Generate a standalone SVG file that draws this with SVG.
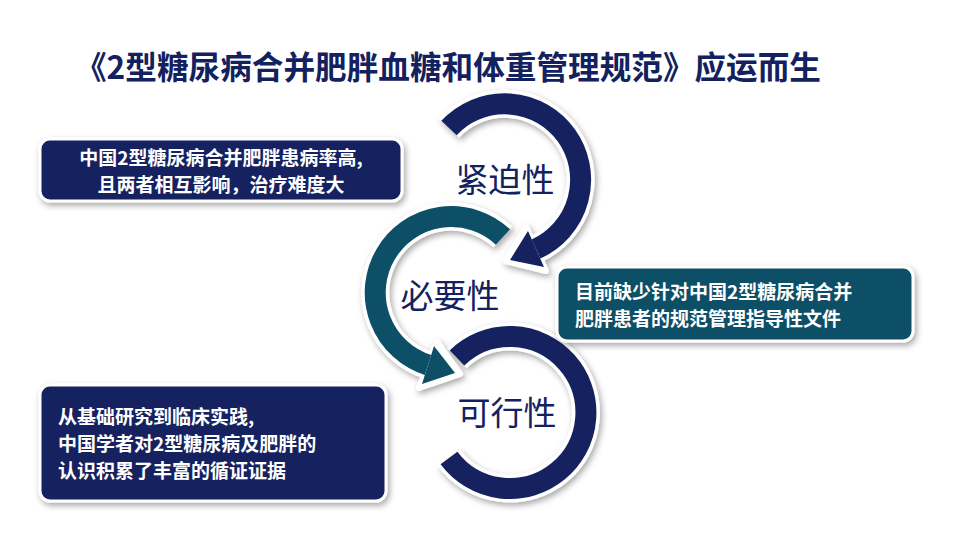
<svg xmlns="http://www.w3.org/2000/svg" width="960" height="540" viewBox="0 0 960 540">
<defs>
<filter id="sh" x="-20%" y="-20%" width="140%" height="140%"><feDropShadow dx="2" dy="3" stdDeviation="3" flood-color="#000" flood-opacity="0.35"/></filter>
</defs>
<style>
text{font-family:"Noto Sans CJK SC","Liberation Sans",sans-serif}
.box{stroke:#fff;stroke-width:3;filter:url(#sh)}
.bt{fill:#fff;font-size:19px;font-weight:bold}
.lbl{fill:#13215e;font-size:33px}
.w{fill:none;stroke:#fff;stroke-width:28}
</style>
<rect width="960" height="540" fill="#fff"/>
<text x="448" y="79" text-anchor="middle" font-size="32" font-weight="bold" fill="#13215e" textLength="746" lengthAdjust="spacingAndGlyphs">《2型糖尿病合并肥胖血糖和体重管理规范》应运而生</text>
<g id="connectors" filter="url(#sh)">
<g id="arc3">
<path class="w" d="M457,358 A76,76 0 1 1 449,458"/>
<path d="M457,358 A76,76 0 1 1 449,458" fill="none" stroke="#13215e" stroke-width="21"/>
</g>
<g id="arc2">
<path class="w" d="M503,237 A76,76 0 1 0 428,365"/>
<polygon points="419,388 437,342 460,374" fill="#fff" stroke="#fff" stroke-width="6" stroke-linejoin="round"/>
<path d="M503,237 A76,76 0 1 0 428,365" fill="none" stroke="#0e5066" stroke-width="21"/>
<polygon points="422,384 434,346 455,373" fill="#0e5066"/>
</g>
<g id="arc1">
<path class="w" d="M449,128 A76,76 0 1 1 536,249"/>
<polygon points="546,271 526,227 506,261" fill="#fff" stroke="#fff" stroke-width="6" stroke-linejoin="round"/>
<path d="M449,128 A76,76 0 1 1 536,249" fill="none" stroke="#13215e" stroke-width="21"/>
<polygon points="544,267 528,231 510,260" fill="#13215e"/>
</g>
</g>
<g id="n-urgency"><text class="lbl" x="505" y="192" text-anchor="middle">紧迫性</text></g>
<g id="n-necessity"><text class="lbl" x="450" y="308" text-anchor="middle">必要性</text></g>
<g id="n-feasibility"><text class="lbl" x="507" y="425" text-anchor="middle">可行性</text></g>
<g id="box1">
<rect class="box" x="40" y="139" width="362" height="62" rx="10" fill="#13215e"/>
<text class="bt" x="221" y="165" text-anchor="middle">中国2型糖尿病合并肥胖患病率高,</text>
<text class="bt" x="221" y="192" text-anchor="middle">且两者相互影响，治疗难度大</text>
</g>
<g id="box2">
<rect class="box" x="557" y="267" width="356" height="74" rx="10" fill="#0e5066"/>
<text class="bt" x="575" y="299">目前缺少针对中国2型糖尿病合并</text>
<text class="bt" x="575" y="326">肥胖患者的规范管理指导性文件</text>
</g>
<g id="box3">
<rect class="box" x="40" y="385" width="346" height="116" rx="10" fill="#13215e"/>
<text class="bt" x="58" y="424">从基础研究到临床实践,</text>
<text class="bt" x="58" y="451">中国学者对2型糖尿病及肥胖的</text>
<text class="bt" x="58" y="478">认识积累了丰富的循证证据</text>
</g>
</svg>
